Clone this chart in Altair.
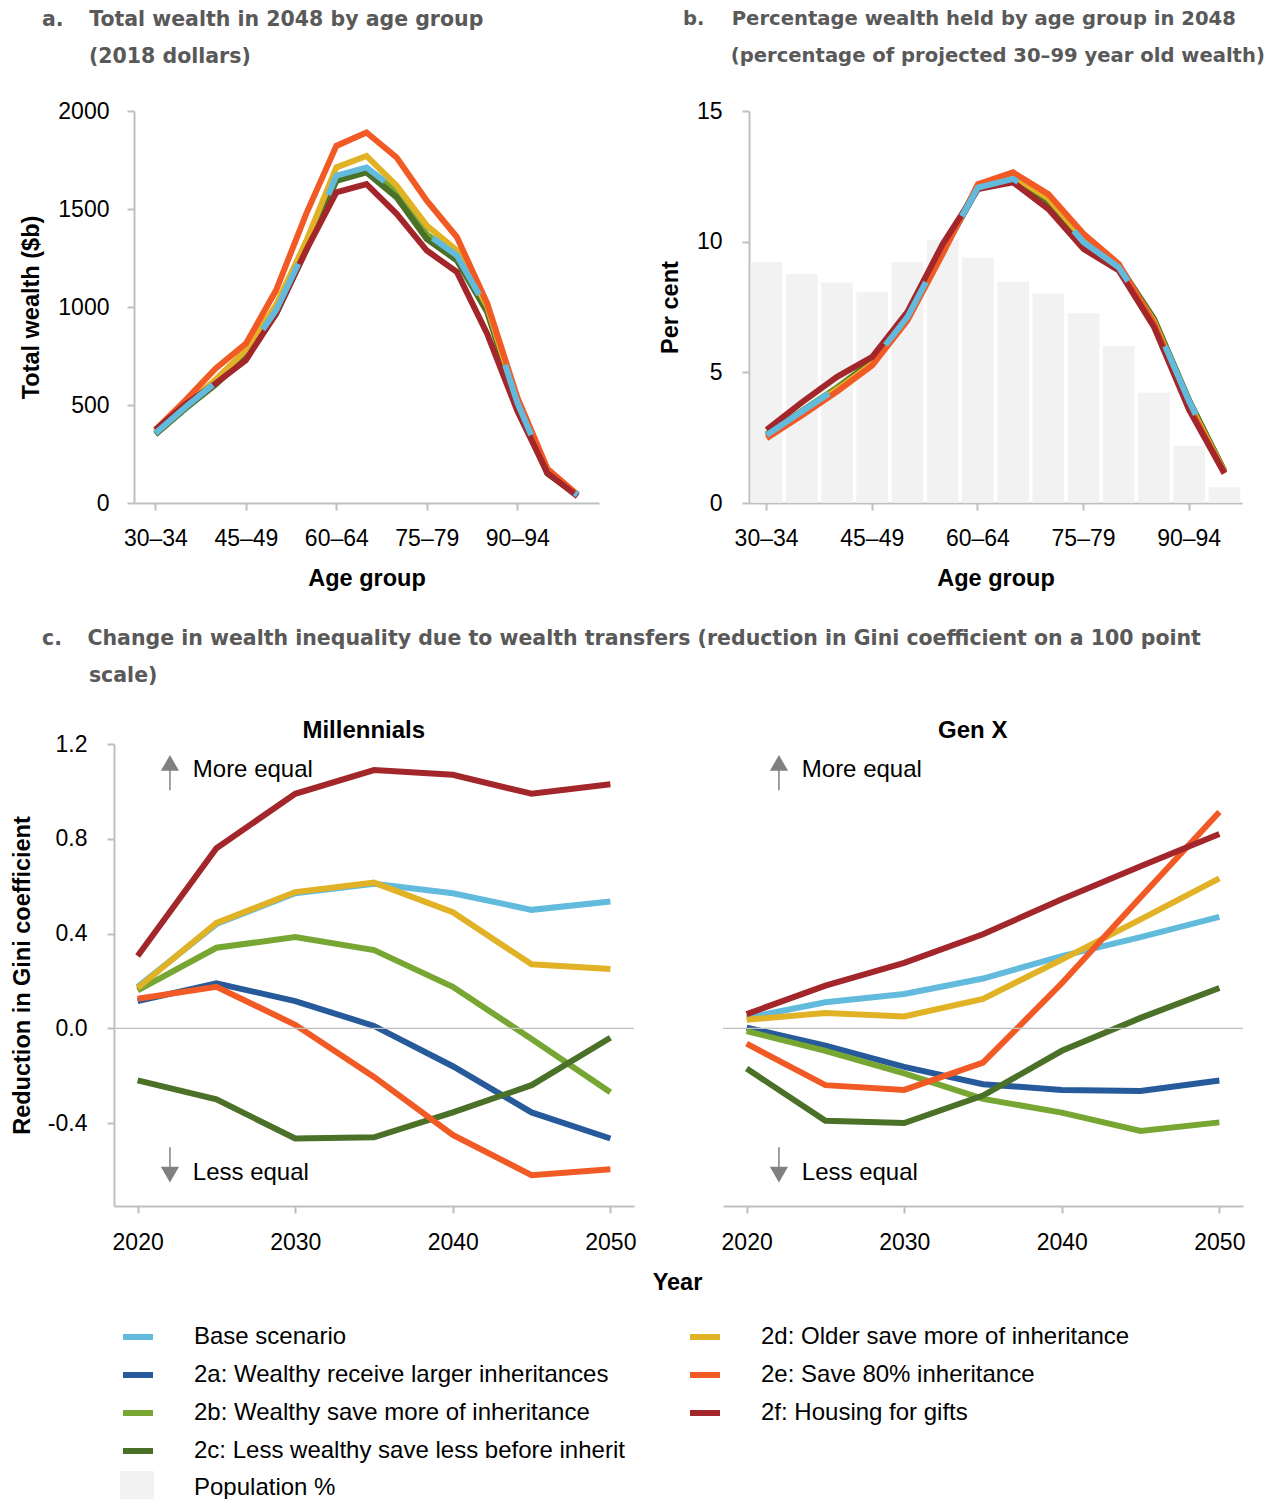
import altair as alt
import pandas as pd

NBSP = "\u00a0"
THIN = "\u2009"
ZWSP = "\u200b"
FONT = "Liberation Sans"
TITLE_FONT = "DejaVu Sans"
TITLE_COLOR = "#595959"
AXIS_GRAY = "#bfbfbf"

# ---------------- series / colours ----------------
SERIES = [
    "Base scenario",
    "2a: Wealthy receive larger inheritances",
    "2b: Wealthy save more of inheritance",
    "2c: Less wealthy save less before inherit",
    "2d: Older save more of inheritance",
    "2e: Save 80% inheritance",
    "2f: Housing for gifts",
]
COLORS = ["#62bbdc", "#265a9b", "#78a633", "#4a7127", "#e1b126", "#f15a24", "#a3262a"]
POP_LABEL = "Population %"
POP_COLOR = "#f2f2f2"

# ---------------- panel a / b categories ----------------
AGE_GROUPS = ["30–34", "35–39", "40–44", "45–49", "50–54", "55–59", "60–64", "65–69",
              "70–74", "75–79", "80–84", "85–89", "90–94", "95–99", "100+"]
AGE_GROUPS_B = AGE_GROUPS[:14]

# panel a: total wealth ($b) in 2048
A_BASE = [356, 490, 615, 763, 983, 1305, 1670, 1712, 1593, 1373, 1263, 990, 513, 153, 42]
A_2A = [354, 487, 610, 757, 975, 1297, 1662, 1703, 1586, 1368, 1258, 986, 510, 152, 41]
A_2B = [357, 489, 613, 760, 979, 1300, 1666, 1707, 1589, 1370, 1261, 988, 512, 153, 42]
A_2C = [350, 482, 605, 748, 965, 1290, 1644, 1687, 1559, 1347, 1237, 975, 500, 150, 40]
A_2D = [362, 500, 630, 780, 1010, 1335, 1712, 1771, 1619, 1415, 1288, 1005, 515, 156, 43]
A_2E = [373, 525, 686, 813, 1085, 1475, 1822, 1890, 1763, 1542, 1356, 1020, 540, 175, 42]
A_2F = [373, 505, 610, 729, 966, 1290, 1585, 1627, 1475, 1288, 1178, 864, 470, 153, 34]

# panel b: per cent of wealth held
B_BASE = [2.6, 3.5, 4.4, 5.4, 7.12, 9.66, 12.07, 12.4, 11.57, 9.98, 9.02, 6.99, 3.88, 1.2]
B_2A = [2.57, 3.46, 4.36, 5.36, 7.08, 9.62, 12.04, 12.37, 11.53, 9.95, 9.0, 6.97, 3.86, 1.19]
B_2B = [2.62, 3.52, 4.42, 5.42, 7.14, 9.68, 12.09, 12.42, 11.6, 10.0, 9.05, 7.02, 3.9, 1.21]
B_2C = [2.62, 3.5, 4.38, 5.42, 7.15, 9.68, 12.05, 12.38, 11.5, 9.95, 9.1, 7.05, 3.92, 1.22]
B_2D = [2.55, 3.45, 4.35, 5.33, 7.05, 9.6, 12.15, 12.5, 11.65, 10.1, 9.05, 6.95, 3.8, 1.18]
B_2E = [2.48, 3.35, 4.26, 5.27, 6.99, 9.53, 12.2, 12.65, 11.82, 10.3, 9.15, 6.86, 3.69, 1.14]
B_2F = [2.8, 3.85, 4.83, 5.59, 7.31, 9.91, 12.01, 12.27, 11.25, 9.72, 8.9, 6.74, 3.56, 1.14]
B_POP = [9.22, 8.76, 8.44, 8.06, 9.22, 10.07, 9.39, 8.48, 8.02, 7.26, 6.0, 4.22, 2.19, 0.6]

# panel c: reduction in Gini coefficient
YEARS = [2020, 2025, 2030, 2035, 2040, 2045, 2050]
YEAR_TICKS = [2020, 2030, 2040, 2050]
M_BASE = [0.175, 0.44, 0.57, 0.61, 0.57, 0.50, 0.535]
M_2A = [0.115, 0.19, 0.115, 0.01, -0.16, -0.355, -0.465]
M_2B = [0.16, 0.34, 0.385, 0.33, 0.175, -0.045, -0.27]
M_2C = [-0.22, -0.30, -0.465, -0.46, -0.355, -0.24, -0.04]
M_2D = [0.17, 0.445, 0.575, 0.615, 0.49, 0.27, 0.25]
M_2E = [0.125, 0.175, 0.015, -0.205, -0.45, -0.62, -0.595]
M_2F = [0.305, 0.76, 0.99, 1.09, 1.07, 0.99, 1.03]

X_BASE = [0.044, 0.11, 0.145, 0.21, 0.305, 0.385, 0.47]
X_2A = [0.003, -0.073, -0.163, -0.236, -0.26, -0.265, -0.22]
X_2B = [-0.012, -0.095, -0.19, -0.298, -0.356, -0.433, -0.397]
X_2C = [-0.17, -0.39, -0.40, -0.284, -0.095, 0.044, 0.17]
X_2D = [0.036, 0.065, 0.05, 0.124, 0.29, 0.46, 0.633]
X_2E = [-0.065, -0.24, -0.26, -0.145, 0.19, 0.553, 0.913]
X_2F = [0.06, 0.18, 0.276, 0.397, 0.545, 0.684, 0.82]

ZERO_LINE = [0]

# panel headings and annotations (data units of panel c)
PANEL_NAMES = ["Millennials", "Gen X"]
PANEL_NAME_YEAR = 2034.35
PANEL_NAME_VALUE = 1.254
NOTE_LABELS = ["More equal", "Less equal"]
NOTE_YEAR = [2023.5, 2023.5]
NOTE_VALUE = [1.089, -0.612]
ARROW_YEAR = [2022.05, 2022.05]
ARROW_FROM = [1.005, -0.502]
ARROW_TO = [1.09, -0.59]
ARROW_HEAD = [1.12, -0.618]
ARROW_SHAPE = ["triangle-up", "triangle-down"]


def long_df(cats, key, series_values, names):
    rows = []
    for name, vals in zip(names, series_values):
        for c, v in zip(cats, vals):
            rows.append({key: c, "series": name, "value": v})
    return pd.DataFrame(rows)


color_enc = alt.Color(
    "series:N",
    scale=alt.Scale(domain=SERIES, range=COLORS),
    legend=alt.Legend(
        orient="none", legendX=6, legendY=1208, columns=2, title=None,
        symbolType="stroke", symbolSize=900, symbolStrokeWidth=6,
        labelFont=FONT, labelFontSize=24, labelColor="#000000", labelLimit=800,
        labelOffset=38, rowPadding=8, columnPadding=53,
    ),
)


def title_block(lines, dx, offset, size=20.5):
    return alt.TitleParams(
        text=lines, anchor="start", frame="group", dx=dx, offset=offset, font=TITLE_FONT,
        fontSize=size, fontWeight="bold", color=TITLE_COLOR, lineHeight=37,
        baseline="top",
    )


# ---------------- panel a ----------------
df_a_other = long_df(AGE_GROUPS, "age", [A_2A, A_2B, A_2C, A_2D, A_2E, A_2F], SERIES[1:])
df_a_base = long_df(AGE_GROUPS, "age", [A_BASE], SERIES[:1])

x_a = alt.X("age:N", sort=AGE_GROUPS,
            scale=alt.Scale(type="point", padding=0.71, range=[20, 485]),
            axis=alt.Axis(values=AGE_GROUPS[::3], title="Age group", labelAngle=0,
                          labelPadding=17, titlePadding=16))
y_a = alt.Y("value:Q", scale=alt.Scale(domain=[0, 2000], nice=False),
            axis=alt.Axis(values=[0, 500, 1000, 1500, 2000], format="d", offset=-20,
                          title="Total wealth ($b)", labelPadding=18, titlePadding=14))

lines_a = alt.Chart(df_a_other).mark_line(strokeWidth=6).encode(x=x_a, y=y_a, color=color_enc)
base_a = alt.Chart(df_a_base).mark_line(strokeWidth=6, strokeDash=[75, 75]).encode(
    x=x_a, y=y_a, color=alt.value(COLORS[0]))

panel_a = alt.layer(lines_a, base_a).properties(
    width=485, height=392,
    title=title_block(["a." + NBSP * 3 + THIN + "Total wealth in 2048 by age group",
                       ZWSP + NBSP * 6 + THIN + "(2018 dollars)"], dx=-72, offset=33),
)

# ---------------- panel b ----------------
df_b_other = long_df(AGE_GROUPS_B, "age", [B_2A, B_2B, B_2C, B_2D, B_2E, B_2F], SERIES[1:])
df_b_base = long_df(AGE_GROUPS_B, "age", [B_BASE], SERIES[:1])
df_pop = pd.DataFrame({"age": AGE_GROUPS_B, "value": B_POP, "kind": POP_LABEL})

x_b = alt.X("age:N", sort=AGE_GROUPS_B,
            scale=alt.Scale(type="band", paddingInner=0.1, paddingOuter=0.05),
            axis=alt.Axis(values=AGE_GROUPS_B[::3], title="Age group", labelAngle=0,
                          labelPadding=17, titlePadding=16))
y_b = alt.Y("value:Q", scale=alt.Scale(domain=[0, 15], nice=False),
            axis=alt.Axis(values=[0, 5, 10, 15], title="Per cent", labelPadding=20,
                          titlePadding=14))

bars_b = alt.Chart(df_pop).mark_bar().encode(
    x=x_b, y=y_b,
    fill=alt.Fill("kind:N", scale=alt.Scale(domain=[POP_LABEL], range=[POP_COLOR]),
                  legend=alt.Legend(orient="none", legendX=6, legendY=1360, title=None,
                                    symbolType="square", symbolSize=1156,
                                    symbolStrokeWidth=0, labelFont=FONT, labelFontSize=24,
                                    labelColor="#000000", labelOffset=40, labelLimit=400)),
)
lines_b = alt.Chart(df_b_other).mark_line(strokeWidth=6).encode(x=x_b, y=y_b, color=color_enc)
base_b = alt.Chart(df_b_base).mark_line(strokeWidth=6, strokeDash=[75, 75]).encode(
    x=x_b, y=y_b, color=alt.value(COLORS[0]))

panel_b = alt.layer(bars_b, lines_b, base_b).properties(
    width=493, height=392,
    title=title_block(["b." + NBSP * 4 + "Percentage wealth held by age group in 2048",
                       ZWSP + NBSP * 7 + "(percentage of projected 30–99 year old wealth)"],
                      dx=-66, offset=33, size=19.6),
)

# ---------------- panel c ----------------
notes = pd.DataFrame({"label": NOTE_LABELS, "year": NOTE_YEAR, "value": NOTE_VALUE})
arrows = pd.DataFrame({"year": ARROW_YEAR, "value": ARROW_FROM, "value2": ARROW_TO,
                       "head": ARROW_HEAD, "shape": ARROW_SHAPE})
zero_df = pd.DataFrame({"value": ZERO_LINE})

Y_DOMAIN = [-0.75, 1.2]
label_expr = ("datum.value < 0 ? '-' + format(abs(datum.value), '.1f') "
              ": format(datum.value, '.1f')")


def gini_panel(series_values, name, first):
    df = long_df(YEARS, "year", series_values, SERIES)
    head_df = pd.DataFrame({"label": [name], "year": [PANEL_NAME_YEAR],
                            "value": [PANEL_NAME_VALUE]})
    if first:
        x_axis = alt.Axis(values=YEAR_TICKS, format="d", title="Year", titleX=563,
                          labelPadding=18, titlePadding=16)
        y_axis = alt.Axis(values=[-0.4, 0, 0.4, 0.8, 1.2], labelExpr=label_expr,
                          title="Reduction in Gini coefficient", labelPadding=20,
                          titlePadding=13)
    else:
        x_axis = alt.Axis(values=YEAR_TICKS, format="d", title=None, labelPadding=18)
        y_axis = None
    x = alt.X("year:Q", scale=alt.Scale(domain=[2018.5, 2051.5], nice=False, zero=False),
              axis=x_axis)
    y = alt.Y("value:Q", scale=alt.Scale(domain=Y_DOMAIN, nice=False), axis=y_axis)

    zero = alt.Chart(zero_df).mark_rule(color=AXIS_GRAY, strokeWidth=1.2).encode(
        y=alt.Y("value:Q"))
    lines = alt.Chart(df).mark_line(strokeWidth=6).encode(x=x, y=y, color=color_enc)
    shafts = alt.Chart(arrows).mark_rule(color="#808080", strokeWidth=1.5).encode(
        x=alt.X("year:Q"), y=alt.Y("value:Q"), y2="value2:Q")
    heads = alt.Chart(arrows).mark_point(filled=True, color="#808080", size=330,
                                         opacity=1).encode(
        x=alt.X("year:Q"), y=alt.Y("head:Q"), shape=alt.Shape("shape:N", scale=None))
    texts = alt.Chart(notes).mark_text(align="left", baseline="middle", font=FONT,
                                       fontSize=24, color="#000000").encode(
        x=alt.X("year:Q"), y=alt.Y("value:Q"), text="label:N")
    heading = alt.Chart(head_df).mark_text(align="center", baseline="middle", font=FONT,
                                           fontSize=24, fontWeight="bold",
                                           color="#000000").encode(
        x=alt.X("year:Q"), y=alt.Y("value:Q"), text="label:N")
    return alt.layer(lines, zero, shafts, heads, texts, heading).properties(
        width=520, height=462)


panel_c1 = gini_panel([M_BASE, M_2A, M_2B, M_2C, M_2D, M_2E, M_2F], PANEL_NAMES[0], True)
panel_c2 = gini_panel([X_BASE, X_2A, X_2B, X_2C, X_2D, X_2E, X_2F], PANEL_NAMES[1], False)

row1 = alt.hconcat(panel_a, panel_b, spacing=150, bounds="flush")
row2 = alt.hconcat(panel_c1, panel_c2, spacing=89, bounds="flush").properties(
    title=title_block(
        ["c." + NBSP * 3 + THIN + "Change in wealth inequality due to wealth transfers "
         "(reduction in Gini coefficient on a 100 point",
         ZWSP + NBSP * 6 + THIN + "scale)"], dx=-72, offset=33),
)

chart = alt.vconcat(row1, row2, spacing=38).properties(
    padding={"left": 2, "top": 1, "right": 0, "bottom": -6}
).configure_axis(
    domainColor=AXIS_GRAY, domainWidth=2, tickColor=AXIS_GRAY, tickWidth=2, tickSize=7,
    labelFont=FONT, labelFontSize=23, labelColor="#000000",
    titleFont=FONT, titleFontSize=23.5, titleFontWeight="bold", titleColor="#000000",
    grid=False,
).configure_view(stroke=None)

chart.save("out.html", embed_options={"renderer": "svg", "actions": False})
